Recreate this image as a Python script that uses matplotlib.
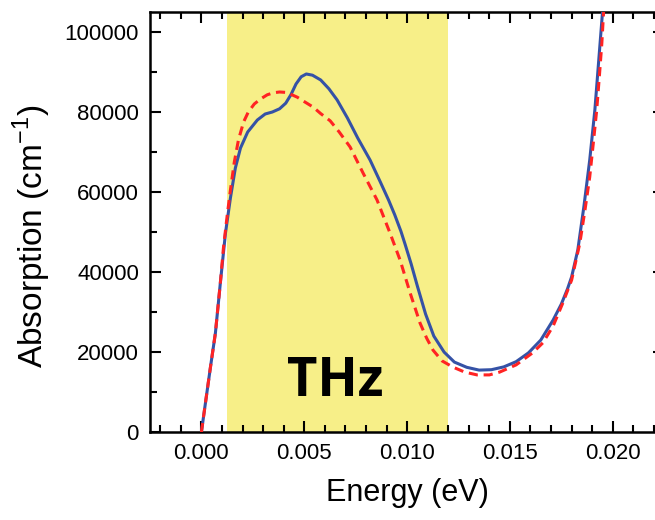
import numpy as np
import matplotlib
matplotlib.use("Agg")
import matplotlib.pyplot as plt
from matplotlib.ticker import MultipleLocator

plt.rcParams['font.family'] = ['Liberation Sans', 'DejaVu Sans']

# energy (eV) and absorption (cm^-1)
e_solid = [0.0, 0.0001, 0.00044, 0.00068, 0.00092, 0.00117, 0.00141, 0.00165, 0.0019,
           0.00225, 0.00272, 0.0031, 0.00345, 0.0038, 0.0041, 0.00435, 0.0046,
           0.00485, 0.0051, 0.0054, 0.0058, 0.0062, 0.0066, 0.0071, 0.0076,
           0.0082, 0.0087, 0.0091, 0.0094, 0.0097, 0.0099, 0.0102, 0.0105,
           0.0109, 0.0113, 0.0118, 0.0123, 0.0129, 0.0135, 0.0141, 0.0147,
           0.0153, 0.0159, 0.0165, 0.0171, 0.0175, 0.0178, 0.0180, 0.0183,
           0.0186, 0.01888, 0.01913, 0.01932, 0.01951, 0.0196]
a_solid = [0, 3750, 16250, 24750, 37250, 49750, 58500, 66000, 71000,
           75000, 78000, 79500, 80000, 80800, 82200, 84300, 87000,
           88800, 89500, 89200, 88000, 85800, 83000, 78500, 73500,
           68000, 62500, 58000, 54300, 50200, 47000, 42000, 36500,
           29500, 24000, 20000, 17500, 16200, 15500, 15600, 16300,
           17600, 19800, 23000, 28000, 32000, 35800, 38800, 45500,
           56500, 68000, 80500, 93000, 105500, 110000]

e_dash = [0.0, 0.0001, 0.00044, 0.00068, 0.00092, 0.00107, 0.00125, 0.00141, 0.0016,
          0.0018, 0.00205, 0.00228, 0.00257, 0.00286, 0.0032, 0.0035, 0.0038,
          0.0041, 0.0044, 0.00466, 0.005, 0.00544, 0.0058, 0.00626, 0.0067,
          0.00723, 0.00786, 0.00854, 0.00917, 0.00966, 0.01015, 0.01063, 0.01095,
          0.01126, 0.0117, 0.01223, 0.0128, 0.0134, 0.014, 0.0145, 0.0153,
          0.0161, 0.0166, 0.0171, 0.01757, 0.018, 0.0184, 0.01865, 0.01888,
          0.01905, 0.01922, 0.01935, 0.01947, 0.01956, 0.0196]
a_dash = [0, 3750, 16250, 24750, 37250, 46000, 54000, 60500, 67500,
          73000, 77500, 80000, 82000, 83200, 84300, 84800, 85000,
          84900, 84300, 83700, 82600, 81200, 79600, 77800, 75000,
          71250, 64750, 58000, 49750, 43000, 34750, 27250, 23500,
          20500, 17800, 16250, 15000, 14300, 14300, 15000, 16800,
          19800, 22300, 26500, 32250, 38000, 47250, 55500, 63750,
          72000, 80500, 89000, 97250, 105500, 109000]

thz_band = (0.00125, 0.0120)

fig = plt.figure(figsize=(6.55, 5.2), dpi=100)
ax = fig.add_axes([0.229, 0.169, 0.785, 0.808])

ax.axvspan(thz_band[0], thz_band[1], color='#f7ef88', lw=0, zorder=0)
ax.plot(e_solid, a_solid, color='#3552a6', lw=2.2, zorder=3)
ax.plot(e_dash, a_dash, color='#ff2323', lw=2.2, ls=(0, (3.0, 1.9)), zorder=4)

ax.text(0.0065, 12500, 'THz', fontsize=38, fontweight='bold', ha='center', va='center',
        family=['Open Sans', 'DejaVu Sans'])

ax.set_xlim(-0.0025, 0.0225)
ax.set_ylim(0, 105000)
ax.xaxis.set_major_locator(MultipleLocator(0.005))
ax.xaxis.set_minor_locator(MultipleLocator(0.001))
ax.yaxis.set_major_locator(MultipleLocator(20000))
ax.yaxis.set_minor_locator(MultipleLocator(10000))
ax.xaxis.set_major_formatter(plt.FuncFormatter(lambda v, p: '%.3f' % v))
ax.yaxis.set_major_formatter(plt.FuncFormatter(lambda v, p: '%d' % round(v)))

ax.tick_params(which='both', direction='in', top=True, right=True, width=1.5, labelsize=16)
ax.tick_params(which='major', length=8, pad=8)
ax.tick_params(which='minor', length=5)
for s in ax.spines.values():
    s.set_linewidth(1.8)

ax.set_xlabel('Energy (eV)', fontsize=22, labelpad=10)
ax.set_ylabel('Absorption (cm$^{\\mathregular{-1}}$)', fontsize=24, labelpad=8, y=0.467)

fig.savefig('out.png', dpi=100)
